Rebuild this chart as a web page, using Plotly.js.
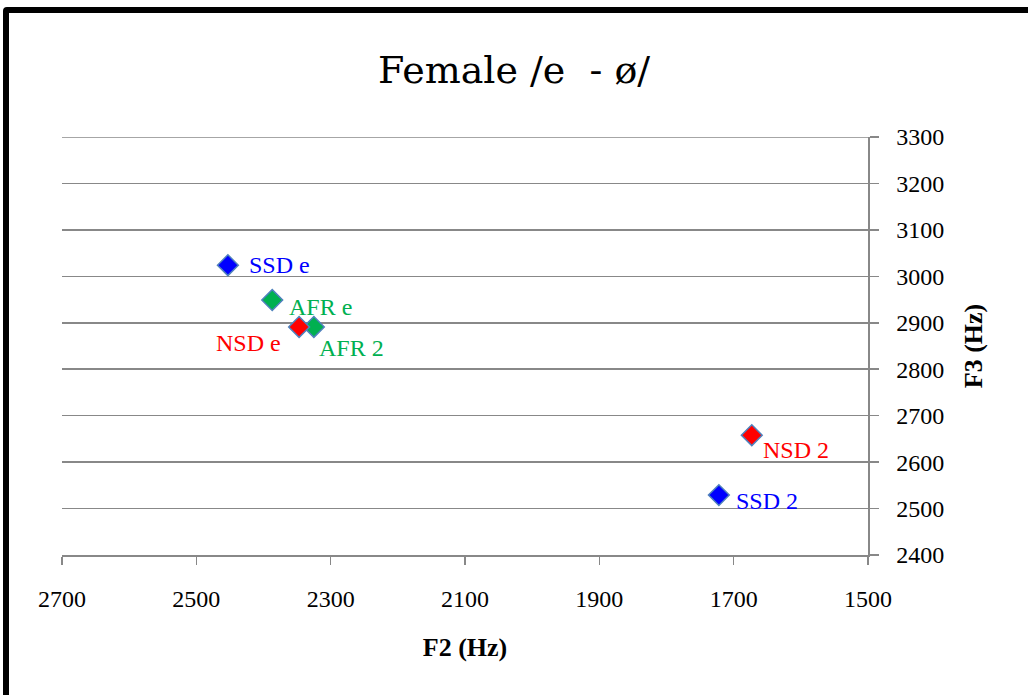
<!DOCTYPE html>
<html>
<head>
<meta charset="utf-8">
<script src="https://cdn.plot.ly/plotly-3.0.1.min.js"></script>
<style>
  html, body { margin: 0; padding: 0; background: #fff; overflow: hidden; }
  #chart { width: 1028px; height: 695px; }
  #frame { position: absolute; left: 3px; top: 7px; width: 1100px; height: 800px;
           border: 6px solid #000; border-radius: 4px; pointer-events: none; box-sizing: border-box; }
</style>
</head>
<body>
<div id="chart"></div>
<div id="frame"></div>
<script>
// ---- data ----
const seriesNames = ["SSD", "AFR", "NSD"];
const ssdF2 = [2453, 1722];
const ssdF3 = [3024, 2529];
const ssdLabels = ["SSD e", "SSD 2"];
const afrF2 = [2387, 2325];
const afrF3 = [2949, 2891];
const afrLabels = ["AFR e", "AFR 2"];
const nsdF2 = [2347, 1673];
const nsdF3 = [2891, 2658];
const nsdLabels = ["NSD e", "NSD 2"];
const xTicks = [2700, 2500, 2300, 2100, 1900, 1700, 1500];
const yTicks = [2400, 2500, 2600, 2700, 2800, 2900, 3000, 3100, 3200, 3300];

// ---- styles ----
const colors = { SSD: "#0000FF", AFR: "#00B050", NSD: "#FF0000" };
const FONT = "Liberation Serif, Times New Roman, serif";
const TITLE_FONT = "DejaVu Serif, serif";
// label offsets (pixels) per point, same order as data
const labelOffsets = {
  SSD: [{xa: "left", dx: 19, dy: 0}, {xa: "left", dx: 15, dy: -6}],
  AFR: [{xa: "left", dx: 15, dy: -7}, {xa: "left", dx: 3, dy: -21}],
  NSD: [{xa: "right", dx: -16, dy: -16}, {xa: "left", dx: 9, dy: -15}]
};

const groups = [
  {name: "SSD", x: ssdF2, y: ssdF3, labels: ssdLabels},
  {name: "AFR", x: afrF2, y: afrF3, labels: afrLabels},
  {name: "NSD", x: nsdF2, y: nsdF3, labels: nsdLabels}
];

const traces = groups.map(g => ({
  type: "scatter", mode: "markers", name: g.name, x: g.x, y: g.y,
  marker: { symbol: "diamond", size: 16, color: colors[g.name],
            line: { color: "#4F81BD", width: 1.5 } },
  hoverinfo: "x+y+name"
}));

const annotations = [];
groups.forEach(g => {
  g.labels.forEach((t, i) => {
    const o = labelOffsets[g.name][i];
    annotations.push({
      x: g.x[i], y: g.y[i], xref: "x", yref: "y", text: t, showarrow: false,
      xanchor: o.xa, yanchor: "middle", xshift: o.dx, yshift: o.dy,
      font: { family: FONT, size: 24, color: colors[g.name] }
    });
  });
});

const layout = {
  width: 1028, height: 695,
  paper_bgcolor: "#fff", plot_bgcolor: "#fff",
  margin: { l: 62, r: 160, t: 137, b: 140 },
  showlegend: false,
  title: { text: "Female /e  - ø/", x: 0.5, xanchor: "center", y: 0.9, yanchor: "middle", yref: "container",
           font: { family: TITLE_FONT, size: 38, color: "#000" } },
  xaxis: {
    range: [2700, 1500], tickvals: xTicks, ticktext: xTicks.map(String),
    showgrid: false, zeroline: false, showline: true, linecolor: "#888", linewidth: 1.5,
    ticks: "outside", ticklen: 8, tickwidth: 1.5, tickcolor: "#888",
    ticklabelstandoff: 14,
    tickfont: { family: FONT, size: 24, color: "#000" },
    title: { text: "<b>F2 (Hz)</b>", standoff: 26, font: { family: FONT, size: 26, color: "#000" } }
  },
  yaxis: {
    side: "right", range: [2400, 3300], tickvals: yTicks, ticktext: yTicks.map(String),
    showgrid: true, gridcolor: "#888", gridwidth: 1.5, zeroline: false,
    showline: true, linecolor: "#888", linewidth: 1.5,
    ticks: "outside", ticklen: 9, tickwidth: 1.5, tickcolor: "#888",
    ticklabelstandoff: 13,
    tickfont: { family: FONT, size: 24, color: "#000" },
    title: { text: "<b>F3 (Hz)</b>", standoff: 20, font: { family: FONT, size: 26, color: "#000" } }
  },
  shapes: [{
    type: "line", xref: "paper", x0: 0, x1: 1, yref: "y",
    y0: yTicks[yTicks.length - 1], y1: yTicks[yTicks.length - 1],
    line: { color: "#888", width: 1.5 }
  }],
  annotations: annotations
};

Plotly.newPlot("chart", traces, layout, { displayModeBar: false, staticPlot: true });
</script>
</body>
</html>
